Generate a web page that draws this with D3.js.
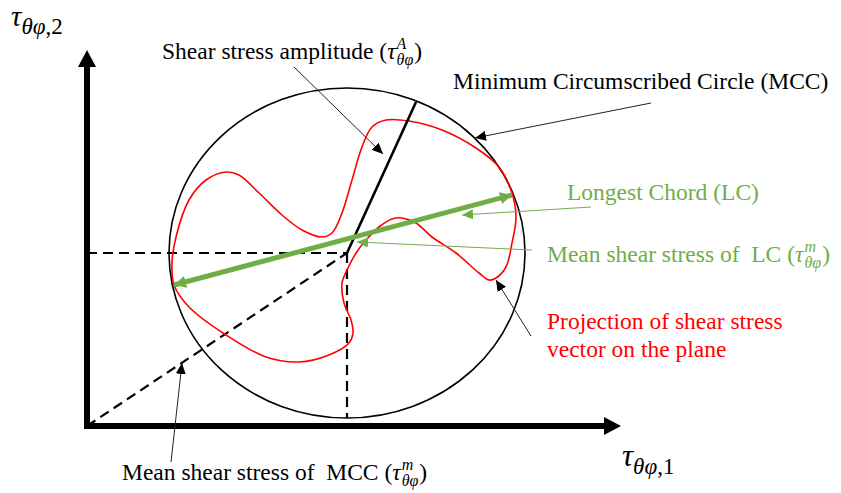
<!DOCTYPE html>
<html>
<head>
<meta charset="utf-8">
<script src="https://cdn.jsdelivr.net/npm/d3@7"></script>
<style>
  body { margin: 0; background: #fff; }
  svg { display: block; }
  text { font-family: "Liberation Serif", "Times New Roman", serif; font-size: 23.5px; white-space: pre; }
</style>
</head>
<body>
<div id="app"></div>
<script>
// shear stress path on the plane, (tau1, tau2) measured from the origin
var pathTau1 = [262, 242, 212, 179, 139, 102, 87, 85, 89, 102, 119, 139, 152, 172, 195, 215, 235, 245, 255, 265, 275, 285, 299, 322, 355, 389, 412, 425, 429, 425, 419, 409, 402, 392, 369, 345, 329, 315, 305, 292, 279, 269, 260, 255, 257, 264, 266];
var pathTau2 = [83, 71, 64, 69, 91, 119, 141, 163, 189, 226, 246, 254, 251, 233, 211, 196, 189, 193, 213, 246, 279, 299, 306, 305, 296, 278, 259, 233, 209, 183, 159, 148, 146, 153, 173, 189, 203, 208, 207, 199, 186, 173, 156, 143, 123, 106, 93];

// minimum circumscribed circle (centre = mean shear stress of MCC)
var mccCentre = [260, 173];
var mccRadii = [178, 165];
// end of the amplitude radius
var amplitudeEnd = [329, 324];
// longest chord end points
var chordStart = [87, 141];
var chordEnd = [425, 231];

// annotation texts
var labelAmplitude = "Shear stress amplitude ";
var labelMcc = "Minimum Circumscribed Circle (MCC)";
var labelChord = "Longest Chord (LC)";
var labelMeanLc = "Mean shear stress of  LC ";
var labelProjection = ["Projection of shear stress", "vector on the plane"];
var labelMeanMcc = "Mean shear stress of  MCC ";

// leader arrows: [from, to] in the same tau units
var leaderAmplitude = [[207, 359], [296, 272]];
var leaderMcc = [[564, 323], [388, 288]];
var leaderChord = [[504, 219], [375, 211]];
var leaderMeanLc = [[445, 176], [270, 184]];
var leaderProjection = [[444, 90], [409, 146]];
var leaderMeanMcc = [[84, -36], [95, 63]];

var green = "#70ad47";
var width = 841, height = 493;

var svg = d3.select("#app").append("svg")
  .attr("width", width)
  .attr("height", height);

var x = d3.scaleLinear().domain([0, 533]).range([87, 620]);
var y = d3.scaleLinear().domain([0, 376]).range([426, 50]);

var defs = svg.append("defs");
function marker(id, color, len, half) {
  defs.append("marker")
    .attr("id", id)
    .attr("markerUnits", "userSpaceOnUse")
    .attr("viewBox", "0 0 " + len + " " + (half * 2))
    .attr("refX", len).attr("refY", half)
    .attr("markerWidth", len).attr("markerHeight", half * 2)
    .attr("orient", "auto-start-reverse")
    .append("path")
    .attr("d", "M0,0L" + len + "," + half + "L0," + (half * 2) + "Z")
    .attr("fill", color);
}
marker("headBlack", "#000", 11, 5);
marker("headGreen", green, 11, 5);
marker("headChord", green, 12, 6);

// dashed guides to the centre of the MCC
var guides = svg.append("g")
  .attr("stroke", "#000")
  .attr("stroke-width", 2.2)
  .attr("stroke-dasharray", "10,6")
  .attr("fill", "none");
guides.append("line")
  .attr("x1", x(0)).attr("y1", y(mccCentre[1]))
  .attr("x2", x(mccCentre[0])).attr("y2", y(mccCentre[1]));
guides.append("line")
  .attr("x1", x(mccCentre[0])).attr("y1", y(mccCentre[1]))
  .attr("x2", x(mccCentre[0])).attr("y2", y(mccCentre[1] - mccRadii[1]));
guides.append("line")
  .attr("x1", x(0)).attr("y1", y(0))
  .attr("x2", x(mccCentre[0])).attr("y2", y(mccCentre[1]));

// the MCC
svg.append("ellipse")
  .attr("cx", x(mccCentre[0])).attr("cy", y(mccCentre[1]))
  .attr("rx", x(mccRadii[0]) - x(0))
  .attr("ry", y(0) - y(mccRadii[1]))
  .attr("fill", "none")
  .attr("stroke", "#000")
  .attr("stroke-width", 1.6);

// projection of the shear stress vector
var pathData = pathTau1.map(function(d, i) { return [d, pathTau2[i]]; });
svg.append("path")
  .datum(pathData)
  .attr("d", d3.line()
    .x(function(d) { return x(d[0]); })
    .y(function(d) { return y(d[1]); })
    .curve(d3.curveCatmullRomClosed.alpha(0.5)))
  .attr("fill", "none")
  .attr("stroke", "#ff0000")
  .attr("stroke-width", 1.6);

// amplitude radius
svg.append("line")
  .attr("x1", x(mccCentre[0])).attr("y1", y(mccCentre[1]))
  .attr("x2", x(amplitudeEnd[0])).attr("y2", y(amplitudeEnd[1]))
  .attr("stroke", "#000")
  .attr("stroke-width", 2.6);

// longest chord, double headed
svg.append("line")
  .attr("x1", x(chordStart[0])).attr("y1", y(chordStart[1]))
  .attr("x2", x(chordEnd[0])).attr("y2", y(chordEnd[1]))
  .attr("stroke", green)
  .attr("stroke-width", 5)
  .attr("marker-start", "url(#headChord)")
  .attr("marker-end", "url(#headChord)");

// axes with arrow heads
var axes = svg.append("g");
axes.append("line")
  .attr("x1", x(0) - 3).attr("y1", y(0))
  .attr("x2", x(533) - 14).attr("y2", y(0))
  .attr("stroke", "#000").attr("stroke-width", 6);
axes.append("path")
  .attr("d", "M" + (x(533) - 16) + "," + (y(0) - 9) + "L" + (x(533) + 1) + "," + y(0) + "L" + (x(533) - 16) + "," + (y(0) + 9) + "Z")
  .attr("fill", "#000");
axes.append("line")
  .attr("x1", x(0)).attr("y1", y(0) + 3)
  .attr("x2", x(0)).attr("y2", y(376) + 14)
  .attr("stroke", "#000").attr("stroke-width", 6);
axes.append("path")
  .attr("d", "M" + (x(0) - 9) + "," + (y(376) + 17) + "L" + x(0) + "," + y(376) + "L" + (x(0) + 9) + "," + (y(376) + 17) + "Z")
  .attr("fill", "#000");

// leader arrows
function leader(pts, color, headId) {
  svg.append("line")
    .attr("x1", x(pts[0][0])).attr("y1", y(pts[0][1]))
    .attr("x2", x(pts[1][0])).attr("y2", y(pts[1][1]))
    .attr("stroke", color)
    .attr("stroke-width", 1)
    .attr("marker-end", "url(#" + headId + ")");
}
leader(leaderAmplitude, "#222", "headBlack");
leader(leaderMcc, "#222", "headBlack");
leader(leaderChord, green, "headGreen");
leader(leaderMeanLc, green, "headGreen");
leader(leaderProjection, "#222", "headBlack");
leader(leaderMeanMcc, "#222", "headBlack");

// text with a (tau sup/sub theta-phi) tail
function mathLabel(x0, y0, prefix, sup, color) {
  var t = svg.append("text").attr("x", x0).attr("y", y0).attr("fill", color).text(prefix + "(");
  t.append("tspan").style("font-style", "italic").text("τ");
  var xs = x0 + t.node().getComputedTextLength() + 1;
  var s1 = svg.append("text").attr("x", xs).attr("y", y0 - 10).attr("fill", color)
    .style("font-size", "16px").style("font-style", "italic").text(sup);
  var s2 = svg.append("text").attr("x", xs).attr("y", y0 + 6).attr("fill", color)
    .style("font-size", "16px").style("font-style", "italic").text("θφ");
  var ws = Math.max(s1.node().getComputedTextLength(), s2.node().getComputedTextLength());
  svg.append("text").attr("x", xs + ws + 1).attr("y", y0).attr("fill", color).text(")");
}
mathLabel(162, 59, labelAmplitude, "A", "#000");
mathLabel(547, 262, labelMeanLc, "m", green);
mathLabel(122, 480, labelMeanMcc, "m", "#000");

svg.append("text").attr("x", 453).attr("y", 89).text(labelMcc);
svg.append("text").attr("x", 567).attr("y", 200).attr("fill", green).text(labelChord);
svg.selectAll("text.proj").data(labelProjection).enter().append("text")
  .attr("class", "proj")
  .attr("x", 547)
  .attr("y", function(d, i) { return 329 + i * 28; })
  .attr("fill", "#ff0000")
  .text(function(d) { return d; });

// axis titles
function axisTitle(x0, y0, size, idx) {
  var t = svg.append("text").attr("x", x0).attr("y", y0);
  t.append("tspan").style("font-size", size + "px").style("font-style", "italic").text("τ");
  t.append("tspan").attr("dy", 8).style("font-size", "23px").style("font-style", "italic").text("θφ");
  t.append("tspan").style("font-size", "23px").text("," + idx);
}
axisTitle(11, 26, 29, 2);
axisTitle(622, 466, 31, 1);
</script>
</body>
</html>
